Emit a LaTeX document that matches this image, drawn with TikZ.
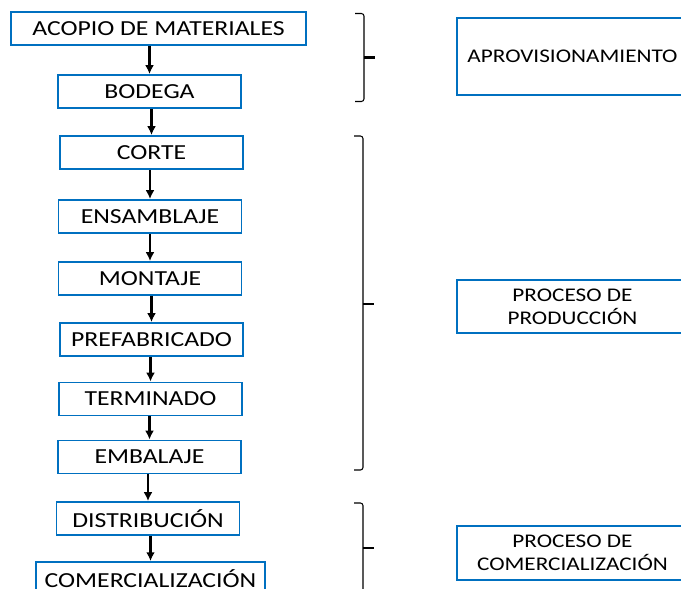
\documentclass[tikz,border=0pt]{standalone}
\usepackage{fontspec}
\setmainfont{Carlito}[FakeStretch=1.2]
\usepackage{tikz}
\usetikzlibrary{arrows.meta}

\definecolor{azul}{RGB}{0,112,192}

\tikzset{
    paso/.style={draw=azul, line width=1.1pt, minimum width=3.66cm, minimum height=0.66cm,
        inner sep=0pt, font=\fontsize{12.2}{14}\selectfont},
    etapa/.style={draw=azul, line width=1.1pt, minimum width=4.62cm, inner sep=0pt,
        align=center, font=\fontsize{11}{13}\selectfont},
    flecha/.style={-{Latex[length=5pt,width=5pt]}, line width=1.6pt},
    llave/.style={line width=0.6pt, rounded corners=1.5pt}
}

\begin{document}
\begin{tikzpicture}

    \useasboundingbox (0,0) rectangle (13.62,-11.78);
    \clip (0,0) rectangle (13.62,-11.78);

    % Steps of the process
    \node[paso, minimum width=5.90cm] (acopio) at (3.17,-0.57) {ACOPIO DE MATERIALES};
    \node[paso] (bodega) at (2.99,-1.83) {BODEGA};
    \node[paso] (corte) at (3.03,-3.05) {CORTE};
    \node[paso] (ensamblaje) at (3.00,-4.33) {ENSAMBLAJE};
    \node[paso] (montaje) at (3.00,-5.57) {MONTAJE};
    \node[paso] (prefabricado) at (3.03,-6.79) {PREFABRICADO};
    \node[paso] (terminado) at (3.01,-7.98) {TERMINADO};
    \node[paso] (embalaje) at (2.99,-9.14) {EMBALAJE};
    \node[paso] (distribucion) at (2.96,-10.37) {DISTRIBUCIÓN};
    \node[paso, minimum width=4.58cm] (comercializacion) at (3.01,-11.57) {COMERCIALIZACIÓN};

    % Arrows between the steps
    \draw[flecha] (acopio.south -| bodega.north) -- (bodega.north);
    \draw[flecha] (bodega.south -| corte.north) -- (corte.north);
    \draw[flecha, line width=1pt] (corte.south -| ensamblaje.north) -- (ensamblaje.north);
    \draw[flecha] (ensamblaje.south -| montaje.north) -- (montaje.north);
    \draw[flecha] (montaje.south -| prefabricado.north) -- (prefabricado.north);
    \draw[flecha] (prefabricado.south -| terminado.north) -- (terminado.north);
    \draw[flecha] (terminado.south -| embalaje.north) -- (embalaje.north);
    \draw[flecha] (embalaje.south -| distribucion.north) -- (distribucion.north);
    \draw[flecha] (distribucion.south -| comercializacion.north) -- (comercializacion.north);

    % Braces
    \draw[llave] (7.10,-0.27) -- (7.28,-0.27) -- (7.28,-1.15) -- (7.28,-2.03) -- (7.10,-2.03);
    \draw[line width=1.2pt] (7.28,-1.15) -- (7.50,-1.15);
    \draw[llave] (7.08,-2.72) -- (7.26,-2.72) -- (7.26,-6.08) -- (7.26,-9.40) -- (7.08,-9.40);
    \draw[line width=1.2pt] (7.26,-6.08) -- (7.48,-6.08);
    \draw[llave] (7.08,-10.06) -- (7.26,-10.06) -- (7.26,-10.96) -- (7.26,-11.86) -- (7.08,-11.86);
    \draw[line width=1.2pt] (7.26,-10.96) -- (7.48,-10.96);

    % Stages
    \node[etapa, minimum height=1.54cm] (aprov) at (11.45,-1.13) {APROVISIONAMIENTO};
    \node[etapa, minimum height=1.06cm] (produccion) at (11.45,-6.13) {PROCESO DE\\PRODUCCIÓN};
    \node[etapa, minimum height=1.08cm] (comercial) at (11.45,-11.06) {PROCESO DE\\COMERCIALIZACIÓN};

\end{tikzpicture}
\end{document}
